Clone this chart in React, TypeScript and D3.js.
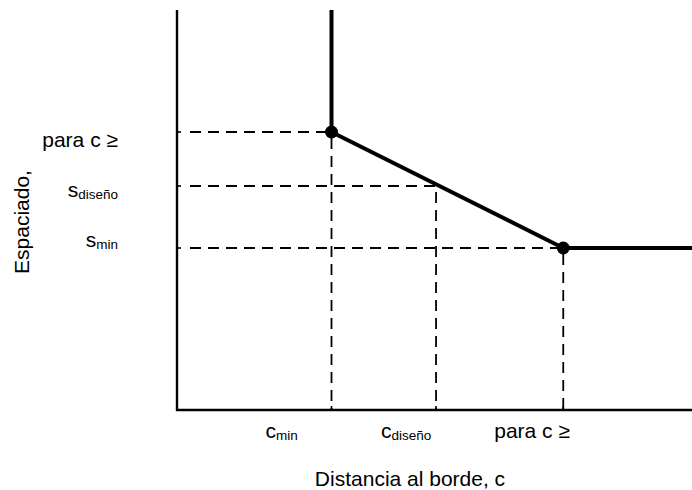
import * as d3 from 'd3';

// distance to edge (x) vs spacing (y), in relative units
const lineX = [0.3, 0.3, 0.75, 1.0];
const lineY = [1.0, 0.695, 0.405, 0.405];
const markerIdx = [1, 2];

// design point on the sloped segment
const designX = 0.503;
const designY = 0.56;

// reference guides: [x, y]
const guides: [number, number][] = [
    [0.3, 0.695],
    [designX, designY],
    [0.75, 0.405],
];

const xTickLabels = ['c', 'c', 'para c ≥'];
const xTickSubs = ['min', 'diseño', ''];
const yTickLabels = ['para c ≥', 's', 's'];
const yTickSubs = ['', 'diseño', 'min'];

const W = 692;
const H = 490;
const margin = { top: 10, right: 0, bottom: 80, left: 177 };

const App = () => {
    const x = d3.scaleLinear().domain([0, 1]).range([margin.left, W - margin.right]);
    const y = d3.scaleLinear().domain([0, 1]).range([H - margin.bottom, margin.top]);

    const line = d3.line<number>()
        .x((_, i) => x(lineX[i]))
        .y(d => y(d));

    const font = 'Arial, "Liberation Sans", sans-serif';
    const x0 = x(0);
    const y0 = y(0);

    // label nudges (px) so labels sit where the original put them
    const xLabelShift = [-66, -55, -69];
    const yLabelShift = [15, 11, -1];

    return (
        <svg width={W} height={H} style={{ position: 'absolute', left: 0, top: 0, background: '#fff' }}
            fontFamily={font}>
            {/* dashed guides */}
            {guides.map(([gx, gy], i) => (
                <g key={'g' + i} stroke="#000" strokeWidth={1.8} strokeDasharray="11,7" fill="none">
                    <line x1={x0 + 13} x2={x(gx)} y1={y(gy)} y2={y(gy)} />
                    <line x1={x(gx)} x2={x(gx)} y1={y(gy) + 6} y2={y0} />
                </g>
            ))}

            {/* axes */}
            <path d={`M${x0},${y(1)}V${y0}H${x(1)}`} stroke="#000" strokeWidth={2.4} fill="none" />
            {guides.map(([gx, gy], i) => (
                <g key={'t' + i} stroke="#000" strokeWidth={1.6}>
                    <line x1={x(gx)} x2={x(gx)} y1={y0} y2={y0 - 4} />
                    <line x1={x0} x2={x0 + 4} y1={y(gy)} y2={y(gy)} />
                </g>
            ))}

            {/* main curve */}
            <path d={line(lineY) || ''} stroke="#000" strokeWidth={4} fill="none" strokeLinejoin="round" />
            {markerIdx.map(i => (
                <circle key={'m' + i} cx={x(lineX[i])} cy={y(lineY[i])} r={6.5} fill="#000" />
            ))}

            {/* y tick labels */}
            {guides.map(([, gy], i) => (
                <text key={'yl' + i} x={118} y={y(gy) + yLabelShift[i]} textAnchor="end" fontSize={21}>
                    {yTickLabels[i]}
                    {yTickSubs[i] && <tspan fontSize={13.5} dy={2}>{yTickSubs[i]}</tspan>}
                </text>
            ))}

            {/* x tick labels */}
            {guides.map(([gx], i) => (
                <text key={'xl' + i} x={x(gx) + xLabelShift[i]} y={y0 + 28} textAnchor="start" fontSize={21}>
                    {xTickLabels[i]}
                    {xTickSubs[i] && <tspan fontSize={13.5} dy={2}>{xTickSubs[i]}</tspan>}
                </text>
            ))}

            {/* axis titles */}
            <text x={410} y={486} textAnchor="middle" fontSize={21}>
                Distancia al borde, c
            </text>
            <text transform={`translate(29,222) rotate(-90)`} textAnchor="middle" fontSize={21}>
                Espaciado,
            </text>
        </svg>
    );
};

export default App;
